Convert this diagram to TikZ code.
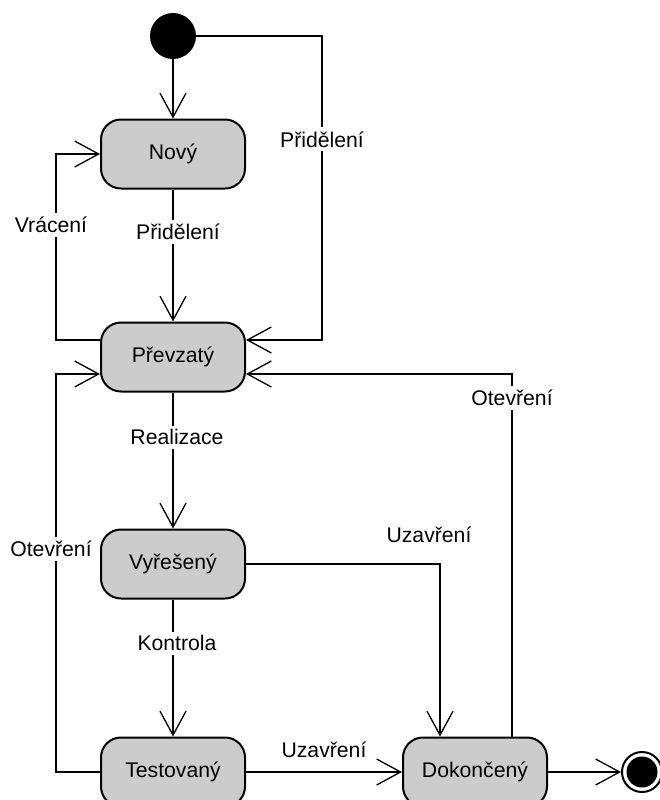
\documentclass[tikz,border=0pt]{standalone}
\usepackage{fontspec}
\setmainfont{Liberation Sans}
\usepackage{tikz}
\usetikzlibrary{arrows.meta}

\begin{document}
\begin{tikzpicture}[x=0.5pt, y=-0.5pt]
    \tikzstyle{state}=[rectangle, rounded corners=10pt, fill=black!20, draw=black,
            line width=1pt, minimum width=72pt, minimum height=34.5pt, inner sep=0pt,
            font=\fontsize{10.6}{12.7}\selectfont]
    \tikzstyle{initial}=[circle, fill=black, minimum size=23pt, inner sep=0pt]
    \tikzstyle{final}=[circle, draw=black, line width=1pt, fill=white,
            minimum size=20pt, inner sep=0pt]
    \tikzstyle{edge}=[line width=0.65pt, -{Straight Barb[length=12pt, width=13pt]}]
    \tikzstyle{lbl}=[fill=white, inner sep=2pt, font=\fontsize{10.6}{12.7}\selectfont]

        \useasboundingbox (0,0) rectangle (660,800);

        \node[initial] (start) at (173,36) {};

        \foreach \n/\y/\t in {novy/154/Nový, prevzaty/357/Převzatý,
                vyreseny/564/Vyřešený, testovany/772/Testovaný}
        {
            \node[state] (\n) at (173,\y) {\t};
        }
        \node[state] (dokonceny) at (475,772) {Dokončený};

        \node[final] (end) at (642,772) {};
        \node[circle, fill=black, minimum size=15.5pt, inner sep=0pt] (endin) at (end) {};

        \draw[edge] (start) -- (novy);
        \draw[edge] (start.east) -| node[lbl, pos=0.67] {Přidělení}
            ([xshift=38pt, yshift=8.5pt]prevzaty.east) -- ([yshift=8.5pt]prevzaty.east);
        \draw[edge] (novy) -- node[lbl, pos=0.32, xshift=2.5pt] {Přidělení} (prevzaty);
        \draw[edge] ([yshift=8.5pt]prevzaty.west) -- ++(-22pt,0)
            |- node[lbl, pos=0.31, xshift=-2.5pt] {Vrácení} (novy.west);

        \draw[edge] (prevzaty) -- node[lbl, pos=0.33, xshift=2pt] {Realizace} (vyreseny);
        \draw[edge] (vyreseny) -- node[lbl, pos=0.32, xshift=2pt] {Kontrola} (testovany);
        \draw[edge] (testovany.west) -- ++(-22pt,0)
            |- node[lbl, pos=0.28, xshift=-2.5pt] {Otevření} ([yshift=-8.5pt]prevzaty.west);

        \draw[edge] (vyreseny.east) -| node[lbl, pos=0.5, yshift=14.5pt, xshift=-5.5pt] {Uzavření}
            ([xshift=-17.5pt]dokonceny.north);
        \draw[edge] (testovany) -- node[lbl, above=5pt, midway] {Uzavření} (dokonceny);
        \draw[edge] ([xshift=18.5pt]dokonceny.north)
            |- node[lbl, pos=0.467] {Otevření} ([yshift=-8.5pt]prevzaty.east);

        \draw[edge] (dokonceny) -- (end);
    \end{tikzpicture}
\end{document}
